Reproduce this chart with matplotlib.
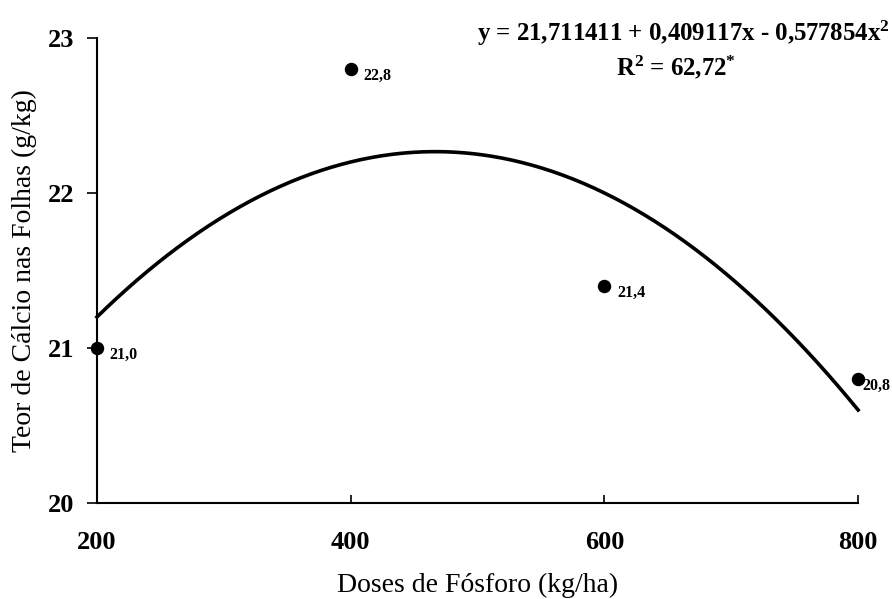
import numpy as np
import matplotlib
matplotlib.use("Agg")
import matplotlib.pyplot as plt

doses = [200, 400, 600, 800]
calcio = [21.0, 22.8, 21.4, 20.8]
labels = ["21,0", "22,8", "21,4", "20,8"]
xticks = [200, 400, 600, 800]
yticks = [20, 21, 22, 23]

plt.rcParams['font.family'] = ['Liberation Serif', 'DejaVu Serif']
plt.rcParams['mathtext.fontset'] = 'custom'
plt.rcParams['mathtext.rm'] = 'Liberation Serif:bold'
plt.rcParams['mathtext.bf'] = 'Liberation Serif:bold'
plt.rcParams['mathtext.it'] = 'Liberation Serif:bold'

fig = plt.figure(figsize=(8.92, 5.99), dpi=100)
ax = fig.add_axes([0.1087, 0.1603, 0.8533, 0.7763])

coef = np.polyfit(doses, calcio, 2)
xs = np.linspace(200, 800, 300)
ax.plot(xs, np.polyval(coef, xs), color='black', lw=2.6, zorder=2)
ax.scatter(doses, calcio, s=75, color='black', zorder=3)
label_dx = [9, 9, 9, 3]
for x, y, t, dx in zip(doses, calcio, labels, label_dx):
    ax.annotate(t, (x, y), xytext=(dx, -5), textcoords='offset points',
                fontsize=11.5, fontweight='bold', ha='left', va='center')

ax.set_xlim(200, 800)
ax.set_ylim(20, 23)
ax.set_xticks(xticks)
ax.set_yticks(yticks)
ax.tick_params(axis='x', direction='in', length=6, width=1.2, pad=20, labelsize=19)
ax.tick_params(axis='y', direction='out', length=7, width=1.2, pad=9, labelsize=19)
for lab in ax.get_xticklabels() + ax.get_yticklabels():
    lab.set_fontweight('bold')
for s in ['top', 'right']:
    ax.spines[s].set_visible(False)
for s in ['left', 'bottom']:
    ax.spines[s].set_linewidth(1.5)
for a in ax.collections + ax.lines:
    a.set_clip_on(False)

ax.set_xlabel("Doses de Fósforo (kg/ha)", fontsize=20, labelpad=14)
ax.set_ylabel("Teor de Cálcio nas Folhas (g/kg)", fontsize=20, labelpad=8)

fig.text(0.535, 0.945, r"y = 21,711411 + 0,409117x - 0,577854x$^{2}$",
         fontsize=17.9, fontweight='bold', ha='left', va='center')
fig.text(0.758, 0.888, r"R$^{2}$ = 62,72$^{*}$",
         fontsize=17.9, fontweight='bold', ha='center', va='center')

fig.savefig("out.png", dpi=100)
